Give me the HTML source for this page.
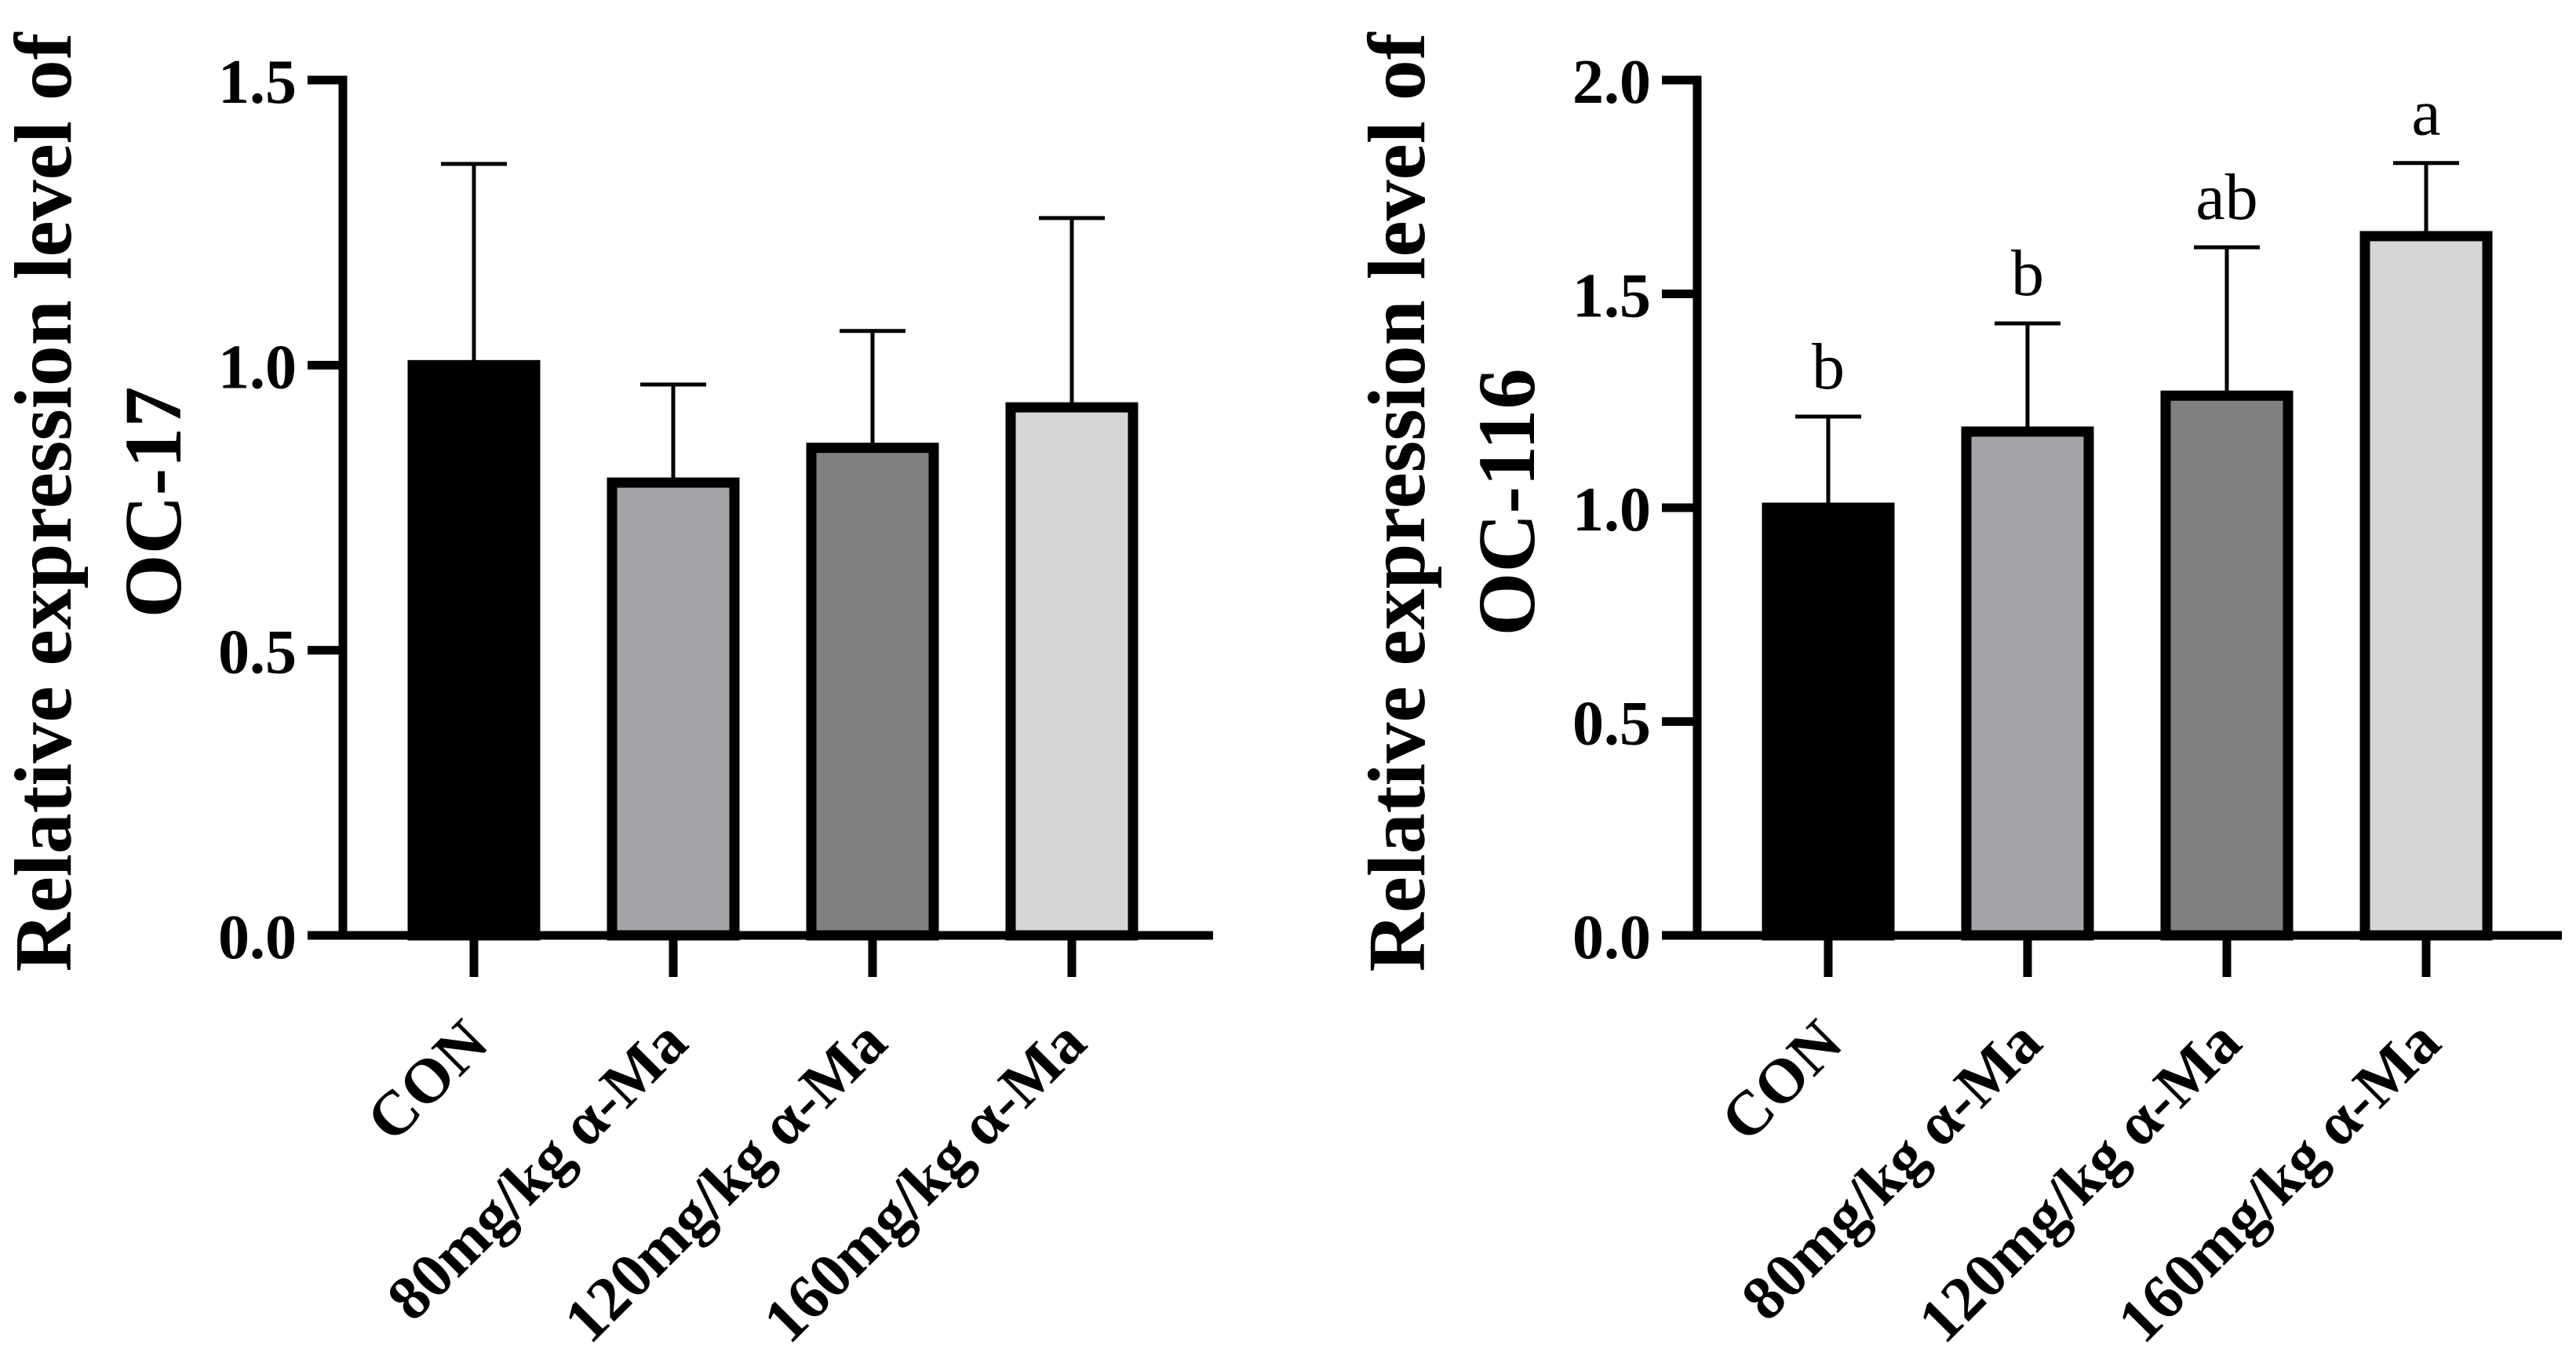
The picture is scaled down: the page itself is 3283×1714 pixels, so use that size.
<!DOCTYPE html>
<html><head><meta charset="utf-8"><style>
html,body{margin:0;padding:0;background:#fff;}
svg{display:block;}
text{font-family:"Liberation Serif",serif;}
</style></head><body>
<svg id="chart" width="3283" height="1714" viewBox="0 0 3283 1714" xmlns="http://www.w3.org/2000/svg"></svg>
<script>
const categories = ["CON", "80mg/kg α-Ma", "120mg/kg α-Ma", "160mg/kg α-Ma"];
const fills = ["#000000", "#a3a3a8", "#808080", "#d6d6d6"];
const oc17Means = [1.0, 0.794, 0.855, 0.926];
const oc17Err = [1.353, 0.966, 1.06, 1.258];
const oc17Ticks = [0, 0.5, 1.0, 1.5];
const oc17TickLabels = ["0.0", "0.5", "1.0", "1.5"];
const oc116Means = [1.0, 1.178, 1.262, 1.635];
const oc116Err = [1.213, 1.431, 1.609, 1.806];
const oc116Ticks = [0, 0.5, 1.0, 1.5, 2.0];
const oc116TickLabels = ["0.0", "0.5", "1.0", "1.5", "2.0"];
const oc116Letters = ["b", "b", "ab", "a"];

const NS = "http://www.w3.org/2000/svg";
const svg = document.getElementById("chart");
function mk(tag, attrs, parent) {
  const e = document.createElementNS(NS, tag);
  for (const k in attrs) e.setAttribute(k, attrs[k]);
  (parent || svg).appendChild(e);
  return e;
}

function panel(opt) {
  const g = mk("g", {});
  
  
  const y0 = 1192, yTop = 102;
  const yScale = v => y0 - (v / opt.max) * (y0 - yTop);
  const xScale = i => opt.axisX + 167 + i * 254;

  // bars
  opt.means.forEach((m, i) => {
    const cx = xScale(i);
    const r = mk("rect", {x: cx - 78, y: yScale(m), width: 156, height: y0 - yScale(m), fill: fills[i], stroke: "#000", "stroke-width": 13}, g);
    
    
    const eb = mk("g", {}, g);
    
    
    mk("line", {x1: cx, x2: cx, y1: yScale(m), y2: yScale(opt.err[i]), stroke: "#000", "stroke-width": 5}, eb);
    mk("line", {x1: cx - 42, x2: cx + 42, y1: yScale(opt.err[i]), y2: yScale(opt.err[i]), stroke: "#000", "stroke-width": 5}, eb);
    if (opt.letters) {
      const t = mk("text", {x: cx, y: yScale(opt.err[i]) - 36, "text-anchor": "middle", "font-size": 84}, g);
      t.textContent = opt.letters[i];
      
      
    }
  });

  // y axis
  const ya = mk("g", {}, g);
  
  
  mk("line", {x1: opt.axisX, x2: opt.axisX, y1: yTop - 5.5, y2: y0 + 5.5, stroke: "#000", "stroke-width": 11}, ya);
  opt.ticks.forEach((v, i) => {
    mk("line", {x1: opt.axisX - 45, x2: opt.axisX, y1: yScale(v), y2: yScale(v), stroke: "#000", "stroke-width": 11}, ya);
    const t = mk("text", {x: opt.axisX - 59, y: yScale(v) + 29, "text-anchor": "end", "font-size": 80, "font-weight": "bold"}, ya);
    t.textContent = opt.tickLabels[i];
    
    
  });

  // x axis
  const xa = mk("g", {}, g);
  
  
  mk("line", {x1: opt.axisX - 45, x2: opt.axisEnd, y1: y0, y2: y0, stroke: "#000", "stroke-width": 11}, xa);
  categories.forEach((c, i) => {
    const cx = xScale(i);
    mk("line", {x1: cx, x2: cx, y1: y0, y2: 1245, stroke: "#000", "stroke-width": 11}, xa);
    const ax = cx + 22, ay = 1333;
    const t = mk("text", {x: ax, y: ay, "text-anchor": "end", "font-size": 80, "font-weight": "bold", transform: "rotate(-45 " + ax + " " + ay + ")"}, xa);
    t.textContent = c;
    
    
  });

  // y title
  const yt = mk("g", {}, g);
  
  
  const t1 = mk("text", {x: opt.t1x, y: 640, "text-anchor": "middle", "font-size": 104, "font-weight": "bold", transform: "rotate(-90 " + opt.t1x + " 640)"}, yt);
  t1.textContent = "Relative expression level of";
  const t2 = mk("text", {x: opt.t2x, y: 640, "text-anchor": "middle", "font-size": 104, "font-weight": "bold", transform: "rotate(-90 " + opt.t2x + " 640)"}, yt);
  t2.textContent = opt.gene;
  // rotate positions: baseline x coordinate
  t1.setAttribute("transform", "translate(" + opt.t1x + ",640) rotate(-90)");
  t1.setAttribute("x", 0); t1.setAttribute("y", 0);
  t2.setAttribute("transform", "translate(" + opt.t2x + ",640) rotate(-90)");
  t2.setAttribute("x", 0); t2.setAttribute("y", 0);
}

panel({name: "oc17-panel", short: "oc17", axisX: 437, axisEnd: 1546, max: 1.5, means: oc17Means, err: oc17Err, ticks: oc17Ticks, tickLabels: oc17TickLabels, t1x: 90, t2x: 230, gene: "OC-17"});
panel({name: "oc116-panel", short: "oc116", axisX: 2163, axisEnd: 3265, max: 2.0, means: oc116Means, err: oc116Err, ticks: oc116Ticks, tickLabels: oc116TickLabels, letters: oc116Letters, t1x: 1815, t2x: 1955, gene: "OC-116"});
</script>
</body></html>
